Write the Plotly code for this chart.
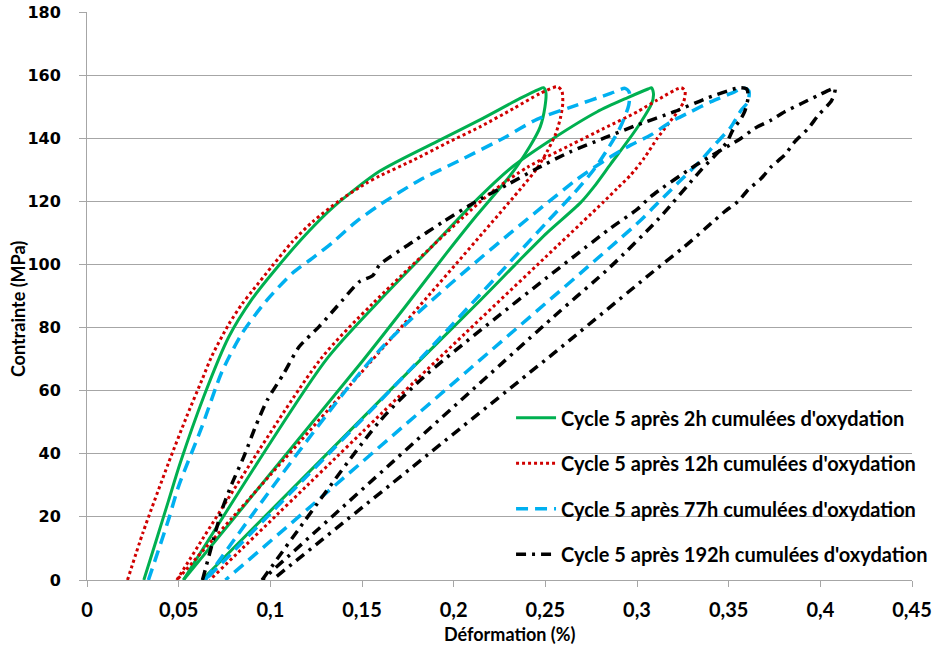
import plotly.graph_objects as go

# ---- data (strain %, stress MPa) ----
# each series: first loop (loading + unloading), gap (None), second loop (reloading + unloading)
green_x = [0.031, 0.038, 0.0444, 0.0508, 0.0636, 0.0773, 0.090, 0.1029, 0.121, 0.134, 0.1595, 0.1924, 0.2143, 0.2362, 0.2465,
           0.2490, 0.2503, 0.2498,
           0.2472, 0.2417, 0.2344, 0.2271, 0.2125, 0.196, 0.1741, 0.1504, 0.0526, None,
           0.0526, 0.1303, 0.1595, 0.187, 0.2143, 0.2326, 0.2545, 0.2783, 0.2947, 0.3060,
           0.3080, 0.3090, 0.3080,
           0.302, 0.2947, 0.2856, 0.2764, 0.2691, 0.2509, 0.2362, 0.2143, 0.1705, 0.0627]
green_y = [0, 13, 25, 37, 58, 77, 89, 98.5, 110.5, 118, 129.5, 139.4, 145.8, 152.6, 155.5,
           156, 154.5, 150,
           143.6, 137.5, 131, 125.5, 115.5, 103.5, 87, 69.5, 0, None,
           0, 69.7, 88.5, 105, 121.5, 131.2, 140, 148.4, 152.8, 155.6,
           156, 154, 151,
           145, 138.9, 131.8, 124.5, 119.5, 110, 101.5, 88.5, 63.2, 0]

red_x = [0.0221, 0.0305, 0.0444, 0.0545, 0.0627, 0.0681, 0.0773, 0.0846, 0.090, 0.101, 0.112, 0.123, 0.1376, 0.1522, 0.1595,
         0.1778, 0.196, 0.2143, 0.2326, 0.2472, 0.2565,
         0.2590, 0.2595,
         0.2582, 0.2554, 0.2509, 0.2454, 0.238, 0.1668, 0.049, None,
         0.049, 0.127, 0.156, 0.2198, 0.2408, 0.2636, 0.2819, 0.3002, 0.3111, 0.3240,
         0.3262, 0.3255,
         0.3221, 0.3166, 0.3111, 0.3038, 0.2965, 0.2892, 0.2819, 0.1796, 0.067]
red_y = [0, 15, 37, 52, 63.4, 71, 81, 87.5, 91.5, 99.5, 107.2, 113.5, 120.2, 125.7, 128,
         133, 138.4, 143.6, 149.4, 154.2, 156.3,
         155, 151,
         146.3, 141, 135.7, 130.4, 125, 77.1, 0, None,
         0, 69.7, 87.7, 122.5, 131, 137.8, 143.1, 148.4, 152.1, 156,
         155, 151.6,
         148.4, 144.2, 140, 133.6, 128.3, 124.1, 119.9, 63.4, 0]

blue_x = [0.0335, 0.0444, 0.0499, 0.0627, 0.0736, 0.0846, 0.0974, 0.112, 0.123, 0.134, 0.1467, 0.1595, 0.1814, 0.2034,
          0.2271, 0.2454, 0.2636, 0.2856, 0.2935,
          0.2958, 0.2955,
          0.2910, 0.2850, 0.2764, 0.2655, 0.2510, 0.176, 0.0645, None,
          0.0645, 0.1613, 0.2655, 0.2856, 0.2965, 0.3075, 0.3185, 0.3294, 0.3404, 0.3532, 0.3580,
          0.3610, 0.3605,
          0.3568, 0.3513, 0.3422, 0.3349, 0.3258, 0.3185, 0.3093, 0.302, 0.207, 0.0755]
blue_y = [0, 19, 29.6, 48.6, 66, 78.2, 88.2, 97.2, 102, 107, 113.5, 118.8, 126.7, 133,
          140, 146, 149.8, 154.2, 155.8,
          154.5, 150.5,
          143.6, 137.5, 130, 122.5, 113.5, 66.5, 0, None,
          0, 73.9, 126.2, 134.1, 137.8, 141, 145.2, 148.4, 151.6, 154.7, 156,
          155, 151.5,
          148.9, 143.6, 137.8, 133, 127.8, 123.6, 118.3, 114, 66, 0]

black_x = [0.063, 0.0736, 0.0791, 0.0855, 0.0919, 0.0983, 0.1074, 0.1157, 0.1266, 0.1394, 0.1485, 0.1559, 0.1595, 0.1778,
           0.1942, 0.2106, 0.229, 0.2454, 0.2636, 0.2819, 0.3002, 0.3203, 0.3386, 0.3560,
           0.3600, 0.3605,
           0.3587, 0.3568, 0.3523, 0.3486, 0.3349, 0.312, 0.2856, 0.2545, 0.0955, None,
           0.0955, 0.1595, 0.185, 0.2856, 0.3002, 0.3075, 0.3322, 0.3568, 0.3641, 0.3733, 0.3806, 0.3897, 0.3989, 0.4080,
           0.4062, 0.3989, 0.3934, 0.3861, 0.3806, 0.3733, 0.3678, 0.3605, 0.355, 0.3477, 0.3404, 0.3258, 0.3111,
           0.2545, 0.2399, 0.101]
black_y = [0, 22.2, 30.6, 39, 48.6, 57, 65.5, 73.9, 80.3, 88.7, 94.5, 96.5, 99.8, 107.2,
           113.5, 119.4, 125.2, 130.4, 135.7, 140, 144.2, 148.4, 152.8, 156,
           155.5, 152.6,
           148.4, 146.3, 142.6, 138.4, 129.9, 114.6, 99.3, 83.4, 0, None,
           0, 50.2, 65, 111.5, 117.5, 121.5, 131.5, 140, 143.1, 145.8, 148.4, 151, 153.6, 155.8,
           152, 147.3, 143.1, 138.9, 134.7, 131, 127.3, 123.6, 119.9, 116.7, 113, 105.6, 98.8,
           71.8, 65, 0]

series_names = ["Cycle 5 après 2h cumulées d'oxydation",
                "Cycle 5 après 12h cumulées d'oxydation",
                "Cycle 5 après 77h cumulées d'oxydation",
                "Cycle 5 après 192h cumulées d'oxydation"]

x_ticks = [0, 0.05, 0.1, 0.15, 0.2, 0.25, 0.3, 0.35, 0.4, 0.45]
y_ticks = [0, 20, 40, 60, 80, 100, 120, 140, 160, 180]
x_title = "Déformation (%)"
y_title = "Contrainte (MPa)"

styles = [
    dict(color="#00B050", width=3, dash="solid"),
    dict(color="#D00000", width=3, dash="3px,3px"),
    dict(color="#00B0F0", width=3.5, dash="12px,7px"),
    dict(color="#000000", width=3.5, dash="10px,6px,3px,6px"),
]

fig = go.Figure()
for i, (xs, ys) in enumerate([(green_x, green_y), (red_x, red_y), (blue_x, blue_y), (black_x, black_y)]):
    st = dict(styles[i], shape="spline", smoothing=0.7)
    fig.add_trace(go.Scatter(x=xs, y=ys, mode="lines", name=series_names[i],
                             line=st, connectgaps=False, legendgroup=str(i)))

title_font = dict(family="Lato", size=18, color="#000000", weight="bold")
fig.add_annotation(text=x_title, xref="paper", yref="paper", x=0.5127, y=-0.0951,
                   xanchor="center", yanchor="middle", showarrow=False, font=title_font)
fig.add_annotation(text=y_title, xref="paper", yref="paper", x=-0.0836, y=0.477, textangle=-90,
                   xanchor="center", yanchor="middle", showarrow=False, font=title_font)

fig.update_layout(
    width=933, height=649,
    margin=dict(l=87, r=21, t=12, b=69, autoexpand=False),
    paper_bgcolor="white", plot_bgcolor="white",
    separators=", ",
    showlegend=True,
    legend=dict(x=0.514, y=0.32, xanchor="left", yanchor="top",
                bgcolor="rgba(0,0,0,0)", tracegroupgap=16.5, itemwidth=40,
                font=dict(family="Lato", size=20, color="#000000", weight="bold")),
    xaxis=dict(range=[0, 0.45], tickvals=x_ticks, showgrid=False, zeroline=False, automargin=False,
               showline=True, linecolor="#A6A6A6", linewidth=1,
               ticks="outside", ticklen=6, tickcolor="#A6A6A6", ticklabelstandoff=6,
               tickfont=dict(family="Lato", size=20, color="#000000", weight="bold")),
    yaxis=dict(range=[0, 180], tickvals=y_ticks, showgrid=True, gridcolor="#A6A6A6", gridwidth=1,
               zeroline=False, showline=True, linecolor="#A6A6A6", linewidth=1, automargin=False,
               ticks="outside", ticklen=7, tickcolor="#A6A6A6", ticklabelstandoff=15,
               tickfont=dict(family="DejaVu Sans", size=16, color="#000000", weight="bold")),
)

fig.write_html("out.html", config={"displayModeBar": False},
               post_script="document.body.style.margin='0';")
